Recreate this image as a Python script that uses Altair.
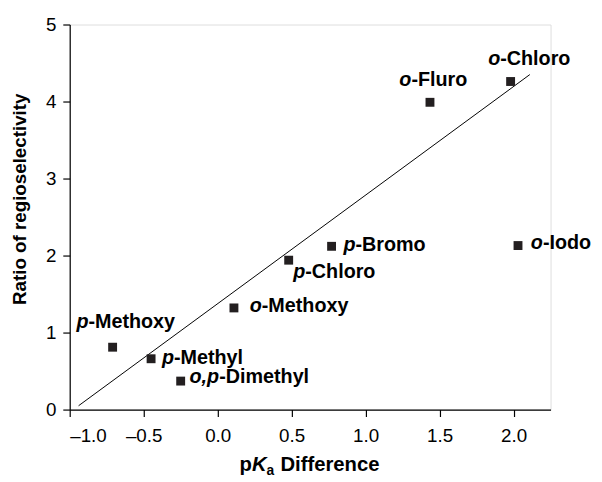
import altair as alt
import pandas as pd

# ---- data ----
label_prefix = ["p", "p", "o,p", "o", "p", "p", "o", "o", "o"]
label_rest = ["-Methoxy", "-Methyl", "-Dimethyl", "-Methoxy", "-Chloro", "-Bromo", "-Iodo", "-Fluro", "-Chloro"]
pka_difference = [-0.71, -0.45, -0.25, 0.11, 0.48, 0.77, 2.03, 1.435, 1.98]
ratio_regio = [0.81, 0.66, 0.37, 1.32, 1.94, 2.12, 2.13, 3.99, 4.26]

fit_x = [-0.94, 2.11]
fit_y = [0.05, 4.35]

x_tick_values = [-1.0, -0.75, -0.5, -0.25, 0.0, 0.25, 0.5, 0.75, 1.0, 1.25, 1.5, 1.75, 2.0, 2.25]
y_tick_values = [0, 0.5, 1, 1.5, 2, 2.5, 3, 3.5, 4, 4.5, 5]

# ---- layout (pixel offsets of the labels relative to their markers) ----
label_dx = [-36.7, 11, 9, 16, 4.6, 12, 13, -31, -22.7]
label_dy = [-25, -1, -4, -2, 12, -1, -3, -23, -23]
prefix_width = {"p": 12.2, "o": 12.2, "o,p": 30.0}

FONT = "Liberation Sans"
W, H = 487, 390

df = pd.DataFrame({
    "prefix": label_prefix,
    "rest": label_rest,
    "x": pka_difference,
    "y": ratio_regio,
})
fit_df = pd.DataFrame({"x": fit_x, "y": fit_y})

xscale = alt.Scale(domain=[-1, 2.25], nice=False, zero=False)
yscale = alt.Scale(domain=[0, 5], nice=False, zero=True)

x_axis = alt.Axis(
    values=x_tick_values,
    labelExpr="(datum.value * 2) % 1 == 0 && datum.value <= 2 ? replace(format(datum.value, '.1f'), '−', '–') : ''",
    title=None, grid=False, domainColor="black", domainWidth=1.2,
    tickColor="black", tickSize=7, tickWidth=1.2,
    labelFont=FONT, labelFontSize=19, labelColor="black", labelPadding=10,
)
y_axis = alt.Axis(
    values=y_tick_values,
    labelExpr="datum.value % 1 == 0 ? format(datum.value, 'd') : ''",
    title=None, grid=False, domainColor="black", domainWidth=1.2,
    tickColor="black", tickSize=7, tickWidth=1.2,
    labelFont=FONT, labelFontSize=19, labelColor="black", labelPadding=7,
)

base = alt.Chart(df)

points = base.mark_square(size=81, color="#231f20", opacity=1, filled=True).encode(
    x=alt.X("x:Q", scale=xscale, axis=x_axis),
    y=alt.Y("y:Q", scale=yscale, axis=y_axis),
)

fit = alt.Chart(fit_df).mark_line(color="black", strokeWidth=1).encode(
    x=alt.X("x:Q", scale=xscale),
    y=alt.Y("y:Q", scale=yscale),
)

layers = [fit, points]
for i in range(len(df)):
    row = df.iloc[[i]]
    dx = label_dx[i]
    dy = label_dy[i]
    layers.append(
        alt.Chart(row).mark_text(
            align="left", baseline="middle", dx=dx, dy=dy,
            font=FONT, fontSize=20, fontWeight="bold", fontStyle="italic", color="black",
        ).encode(x=alt.X("x:Q", scale=xscale), y=alt.Y("y:Q", scale=yscale), text="prefix:N")
    )
    layers.append(
        alt.Chart(row).mark_text(
            align="left", baseline="middle", dx=dx + prefix_width[label_prefix[i]], dy=dy,
            font=FONT, fontSize=20, fontWeight="bold", color="black",
        ).encode(x=alt.X("x:Q", scale=xscale), y=alt.Y("y:Q", scale=yscale), text="rest:N")
    )

# ---- axis titles built from text pieces ----
one = pd.DataFrame({"k": [0]})
title_y = 446.5
x0 = 172
title_parts = [
    ("p", x0, title_y, 20.5, "normal"),
    ("K", x0 + 12.5, title_y, 20.5, "italic"),
    ("a", x0 + 27.3, title_y + 6, 14, "normal"),
    ("Difference", x0 + 41.5, title_y, 20.5, "normal"),
]
for txt, px, py, fs, style in title_parts:
    layers.append(
        alt.Chart(one).mark_text(
            text=txt, align="left", baseline="middle", font=FONT, fontSize=fs,
            fontWeight="bold", fontStyle=style, color="black",
        ).encode(x=alt.value(px), y=alt.value(py))
    )

layers.append(
    alt.Chart(one).mark_text(
        text="Ratio of regioselectivity", align="center", baseline="middle", angle=270,
        font=FONT, fontSize=19, fontWeight="bold", color="black",
    ).encode(x=alt.value(-50), y=alt.value(177))
)

chart = alt.layer(*layers).properties(
    width=W, height=H,
    autosize=alt.AutoSizeParams(type="none"),
    padding={"left": 62.5, "top": 13.7, "right": 44, "bottom": 70},
).configure_view(stroke=None).configure(background="white")

chart.save("out.html", embed_options={"renderer": "svg", "actions": False})
